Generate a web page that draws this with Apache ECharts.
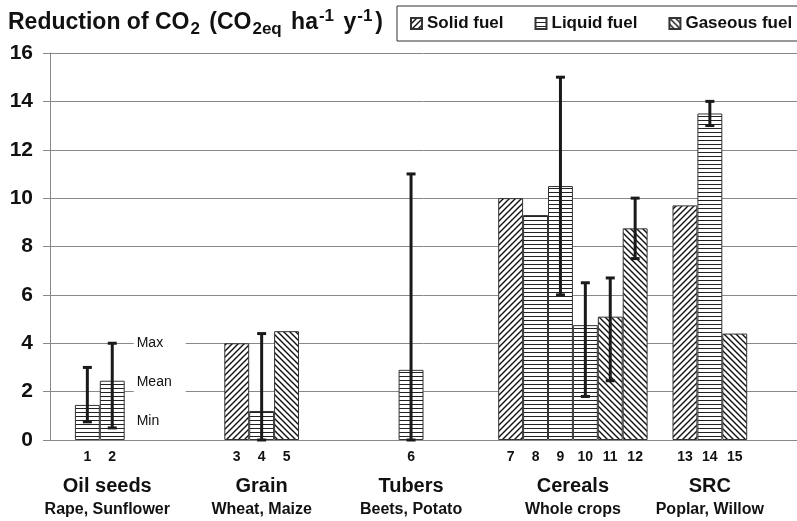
<!DOCTYPE html>
<html><head><meta charset="utf-8">
<script src="https://cdn.jsdelivr.net/npm/echarts@6/dist/echarts.min.js"></script>
<style>html,body{margin:0;padding:0;background:#fff}#c{width:797px;height:521px}</style>
</head><body><div id="c"></div>
<script>
// ---- data ----
const categories = ['', '1', '2', '', '', '', '', '3', '4', '5', '', '', '', '', '6', '', '', '', '7', '8', '9', '10', '11', '12', '', '13', '14', '15', '', ''];
const barNumbers = ['1','2','3','4','5','6','7','8','9','10','11','12','13','14','15'];
const barFuel = ['Liquid fuel','Liquid fuel','Solid fuel','Liquid fuel','Gaseous fuel','Liquid fuel','Solid fuel','Liquid fuel','Liquid fuel','Liquid fuel','Gaseous fuel','Gaseous fuel','Solid fuel','Liquid fuel','Gaseous fuel'];
const barMean = [1.45, 2.45, 4.0, 1.2, 4.5, 2.9, 10.0, 9.3, 10.5, 4.75, 5.1, 8.75, 9.7, 13.5, 4.4];
const errMin = [0.75, 0.5, null, 0, null, 0, null, null, 6, 1.8, 2.45, 7.5, null, 13, null];
const errMax = [3, 4, null, 4.4, null, 11, null, null, 15, 6.5, 6.7, 10, null, 14, null];
const fuels = ['Solid fuel', 'Liquid fuel', 'Gaseous fuel'];
const groupNames = ['Oil seeds', 'Grain', 'Tubers', 'Cereals', 'SRC'];
const groupSubs = ['Rape, Sunflower', 'Wheat, Maize', 'Beets, Potato', 'Whole crops', 'Poplar, Willow'];
const groupCenterSlot = [1.8, 8, 14, 20.5, 26];
const keyLabels = ['Max', 'Mean', 'Min'];
const keyValues = [4, 2.4, 0.8];
const yTicks = { min: 0, max: 16, interval: 2 };

// ---- patterns ----
function makePattern(kind) {
  const s = kind === 'h' ? 4 : 6;
  const c = document.createElement('canvas'); c.width = s; c.height = s;
  const g = c.getContext('2d');
  g.fillStyle = '#fff'; g.fillRect(0, 0, s, s);
  g.strokeStyle = '#111'; g.lineWidth = 1.4;
  if (kind === 'h') { g.fillStyle = '#222'; g.fillRect(0, 0, s, 1); }
  else if (kind === '/') {
    g.beginPath();
    g.moveTo(-1, s + 1); g.lineTo(s + 1, -1);
    g.moveTo(-1, 1); g.lineTo(1, -1);
    g.moveTo(s - 1, s + 1); g.lineTo(s + 1, s - 1);
    g.stroke();
  } else {
    g.beginPath();
    g.moveTo(-1, -1); g.lineTo(s + 1, s + 1);
    g.moveTo(s - 1, -1); g.lineTo(s + 1, 1);
    g.moveTo(-1, s - 1); g.lineTo(1, s + 1);
    g.stroke();
  }
  return { image: c, repeat: 'repeat' };
}
const fuelPattern = { 'Solid fuel': makePattern('/'), 'Liquid fuel': makePattern('h'), 'Gaseous fuel': makePattern('\\') };

const FONT = '"Liberation Sans", Arial, sans-serif';
const barSlots = barNumbers.map(n => categories.indexOf(n));

const barSeries = fuels.map(f => {
  const d = categories.map(() => '-');
  barNumbers.forEach((n, i) => { if (barFuel[i] === f) d[barSlots[i]] = barMean[i]; });
  return {
    name: f, type: 'bar', stack: 'fuel', data: d, barCategoryGap: '0%',
    itemStyle: { color: fuelPattern[f], borderColor: '#333', borderWidth: 1 },
    emphasis: { disabled: true }, z: 2
  };
});

const errData = [];
barNumbers.forEach((n, i) => { if (errMin[i] != null) errData.push([barSlots[i], errMin[i], errMax[i]]); });

const chart = echarts.init(document.getElementById('c'), null, { renderer: 'canvas' });
chart.setOption({
  animation: false,
  backgroundColor: '#fff',
  title: {
    left: 8, top: 8, padding: 0,
    text: '{a|Reduction of CO}{s|2}{a| (CO}{s|2eq}{a| ha}{p|-1}{a| y}{p|-1}{a|)}',
    textStyle: {
      rich: {
        a: { fontFamily: FONT, fontWeight: 'bold', fontSize: 23, color: '#111', lineHeight: 30 },
        s: { fontFamily: FONT, fontWeight: 'bold', fontSize: 17, color: '#111', lineHeight: 16, verticalAlign: 'bottom', padding: [0, 3, 0, 1] },
        p: { fontFamily: FONT, fontWeight: 'bold', fontSize: 17, color: '#111', lineHeight: 16, verticalAlign: 'top', padding: [0, 3, 0, 1] }
      }
    }
  },
  legend: {
    left: 397, top: 6, width: 420, itemWidth: 11, itemHeight: 11, itemGap: 31, icon: 'rect',
    padding: [8, 8, 8, 13], borderColor: '#333', borderWidth: 1,
    textStyle: { fontFamily: FONT, fontSize: 17, fontWeight: 'bold', color: '#111', lineHeight: 19 },
    data: fuels, selectedMode: false
  },
  grid: { left: 50, right: 0, top: 53, bottom: 81 },
  xAxis: {
    type: 'category', data: categories,
    axisLine: { lineStyle: { color: '#888', width: 1 } },
    axisTick: { show: false },
    axisLabel: { interval: 0, fontFamily: FONT, fontWeight: 'bold', fontSize: 14, color: '#111', margin: 10 }
  },
  yAxis: {
    type: 'value', min: yTicks.min, max: yTicks.max, interval: yTicks.interval,
    axisLine: { show: true, lineStyle: { color: '#888' } },
    axisTick: { show: true, length: 7, lineStyle: { color: '#888' } },
    axisLabel: { fontFamily: FONT, fontWeight: 'bold', fontSize: 21, color: '#111', margin: 17 },
    splitLine: { lineStyle: { color: '#888', width: 1 } }
  },
  series: barSeries.concat([{
    type: 'custom', data: errData, z: 5, silent: true,
    renderItem: function (params, api) {
      const x = api.value(0), lo = api.value(1), hi = api.value(2);
      const pt = api.coord([x, hi]), pb = api.coord([x, lo]);
      const cw = 4.5, st = { stroke: '#1a1a1a', lineWidth: 3 };
      return { type: 'group', children: [
        { type: 'line', shape: { x1: pt[0], y1: pt[1], x2: pb[0], y2: pb[1] }, style: st },
        { type: 'line', shape: { x1: pt[0] - cw, y1: pt[1], x2: pt[0] + cw, y2: pt[1] }, style: st },
        { type: 'line', shape: { x1: pb[0] - cw, y1: pb[1], x2: pb[0] + cw, y2: pb[1] }, style: st }
      ] };
    }
  }])
});

// ---- group labels and key annotation, placed via axis conversion ----
const p0 = chart.convertToPixel({ xAxisIndex: 0 }, 0);
const p1 = chart.convertToPixel({ xAxisIndex: 0 }, 1);
const slotW = p1 - p0;
const slotX = s => p0 + s * slotW;
const yBase = chart.convertToPixel({ yAxisIndex: 0 }, 0);
const graphics = [];
groupNames.forEach((g, i) => {
  const x = slotX(groupCenterSlot[i]);
  graphics.push({ type: 'text', x: x, y: yBase + 46, z: 10, style: { text: g, font: 'bold 20px ' + FONT, fill: '#111', align: 'center', verticalAlign: 'middle' } });
  graphics.push({ type: 'text', x: x, y: yBase + 70, z: 10, style: { text: groupSubs[i], font: 'bold 16px ' + FONT, fill: '#111', align: 'center', verticalAlign: 'middle' } });
});
const keyX = slotX(barSlots[1]) + slotW / 2;
const yTop = chart.convertToPixel({ yAxisIndex: 0 }, keyValues[0]);
const yBot = chart.convertToPixel({ yAxisIndex: 0 }, keyValues[2]);
graphics.push({ type: 'rect', z: 3, shape: { x: keyX + 9, y: yTop - 9, width: 52, height: yBot - yTop + 18 }, style: { fill: '#fff' } });
keyLabels.forEach((k, i) => {
  graphics.push({ type: 'text', z: 4, x: keyX + 12, y: chart.convertToPixel({ yAxisIndex: 0 }, keyValues[i]), style: { text: k, font: '14px ' + FONT, fill: '#111', align: 'left', verticalAlign: 'middle' } });
});
chart.setOption({ graphic: graphics });
</script>
</body></html>
